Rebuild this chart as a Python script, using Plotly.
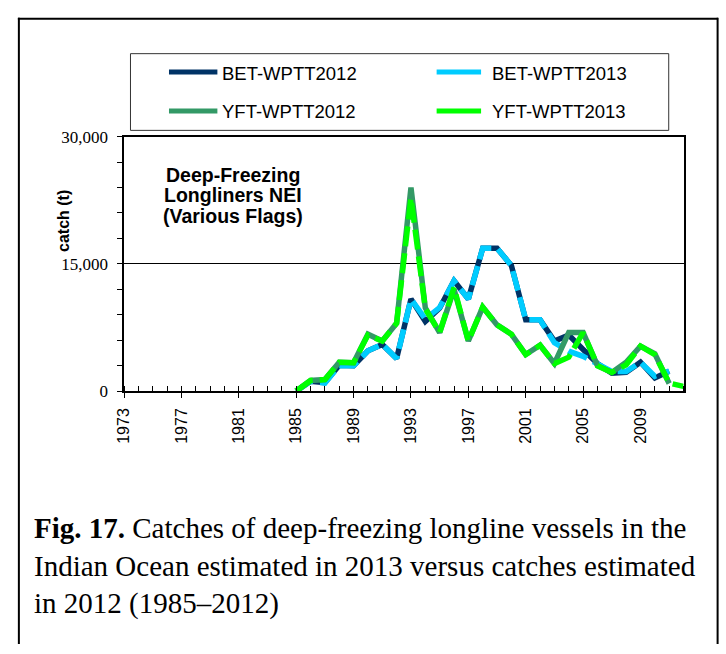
import plotly.graph_objects as go

W, H = 726, 654

years = list(range(1985, 2013))
bet_2012 = [0, 1150, 1000, 3050, 3000, 4750, 5500, 3850, 10850, 8200, 9800, 13000, 10850,
            16850, 16850, 14800, 8400, 8400, 5900, 6600, 4900, 3250, 2100, 2200, 3400, 1550, 2350]
bet_2013 = [0, 1150, 950, 3000, 3000, 4750, 5500, 3850, 10850, 8500, 9850, 13000, 10850,
            16850, 16850, 14800, 8400, 8400, 5700, 4700, 4100, 3250, 2300, 2300, 3400, 1750, 2350]
yft_2012 = [0, 1250, 1350, 3400, 3350, 6700, 5900, 8000, 24000, 9800, 6900, 12000, 5900,
            9900, 7800, 6700, 4300, 5400, 3250, 6900, 6900, 3000, 2200, 3400, 5300, 4400, 900]
yft_2013 = [0, 1250, 1350, 3400, 3350, 6600, 5900, 8000, 22800, 9700, 6900, 12200, 5900,
            9900, 7800, 6700, 4300, 5400, 3250, 4000, 6900, 3000, 2200, 3100, 5300, 4300, 950, 550]

series_names = ["BET-WPTT2012", "BET-WPTT2013", "YFT-WPTT2012", "YFT-WPTT2013"]
series_colors = ["#003366", "#00CCFF", "#339966", "#00FF00"]
series_values = [bet_2012, bet_2013, yft_2012, yft_2013]
series_dash = ["solid", "20px,7px", "solid", "20px,7px"]

x_tick_vals = list(range(1973, 2013, 4))
y_tick_vals = [0, 15000, 30000]
y_tick_text = ["0", "15,000", "30,000"]

panel_lines = ["Deep-Freezing", "Longliners NEI", "(Various Flags)"]
caption_lines = ["<b>Fig. 17.</b> Catches of deep-freezing longline vessels in the",
                 "Indian Ocean estimated in 2013 versus catches estimated",
                 "in 2012 (1985\u20132012)"]


def px(x):
    return x / W


def py(y):
    return 1 - y / H


fig = go.Figure()
for name, col, vals, dash in zip(series_names, series_colors, series_values, series_dash):
    fig.add_trace(go.Scatter(x=years[:len(vals)], y=vals, mode="lines", name=name,
                             line=dict(color=col, width=5.5, dash=dash),
                             showlegend=False, hoverinfo="x+y+name"))

shapes = []
annotations = []

# outer frame (top, left, right)
frame = dict(type="line", xref="paper", yref="paper", line=dict(color="black", width=2))
shapes.append(dict(frame, x0=px(9), x1=px(718), y0=py(10), y1=py(10)))
shapes.append(dict(frame, x0=px(10), x1=px(10), y0=py(9), y1=py(654)))
shapes.append(dict(frame, x0=px(717.5), x1=px(717.5), y0=py(9), y1=py(654)))

# legend box
shapes.append(dict(type="rect", xref="paper", yref="paper", x0=px(123), x1=px(668),
                   y0=py(46), y1=py(125), line=dict(color="#333333", width=1)))
leg_pos = [(162, 211, 214, 65), (433, 478, 487, 65), (162, 211, 214, 105), (433, 478, 487, 105)]
for (lx0, lx1, tx, ty), name, col in zip(leg_pos, series_names, series_colors):
    shapes.append(dict(type="line", xref="paper", yref="paper", x0=px(lx0), x1=px(lx1),
                       y0=py(ty), y1=py(ty), line=dict(color=col, width=5)))
    annotations.append(dict(text=name, xref="paper", yref="paper", x=px(tx), y=py(ty + 1),
                            xanchor="left", yanchor="middle", showarrow=False,
                            font=dict(family="Liberation Sans, Arial", size=18.5, color="black")))

# panel label
for i, t in enumerate(panel_lines):
    annotations.append(dict(text="<b>%s</b>" % t, xref="paper", yref="paper", x=px(227),
                            y=py(171 + 21 * i), xanchor="center", yanchor="middle", showarrow=False,
                            font=dict(family="Liberation Sans, Arial", size=19.5, color="black")))

# y-axis title
annotations.append(dict(text="<b>catch (t)</b>", xref="paper", yref="paper", x=px(55), y=py(218),
                        xanchor="center", yanchor="middle", textangle=-90, showarrow=False,
                        font=dict(family="Liberation Sans, Arial", size=16, color="black")))

# caption
for i, t in enumerate(caption_lines):
    annotations.append(dict(text=t, xref="paper", yref="paper", x=px(23), y=py(535 + 38.5 * i),
                            xanchor="left", yanchor="middle", showarrow=False,
                            font=dict(family="Liberation Serif, Times New Roman", size=29,
                                      color="black")))

fig.update_layout(
    width=W, height=H, margin=dict(l=0, r=0, t=0, b=0),
    paper_bgcolor="white", plot_bgcolor="white",
    shapes=shapes, annotations=annotations, showlegend=False,
    xaxis=dict(domain=[px(116.5), px(683)], range=[1973, 2012], tickvals=x_tick_vals,
               ticktext=[str(v) for v in x_tick_vals], tickangle=-90,
               ticks="outside", ticklen=5, tickcolor="black", tickwidth=1.3,
               minor=dict(dtick=1, tick0=1973, ticks="inside", ticklen=5, tickcolor="black",
                          tickwidth=1.3, showgrid=False),
               showline=True, linecolor="black", linewidth=1.5, mirror=True,
               showgrid=False, zeroline=False, ticklabelstandoff=4,
               tickfont=dict(family="Liberation Sans, Arial", size=16, color="black")),
    yaxis=dict(domain=[py(393.5), py(131.5)], range=[0, 30000], tickvals=y_tick_vals,
               ticktext=y_tick_text, ticks="outside", ticklen=5, tickcolor="black", tickwidth=1.3,
               minor=dict(dtick=3000, tick0=0, ticks="outside", ticklen=5, tickcolor="black",
                          tickwidth=1.3, showgrid=False),
               showline=True, linecolor="black", linewidth=1.5, mirror=True,
               showgrid=True, gridcolor="black", gridwidth=1.2, zeroline=False,
               ticklabelstandoff=6,
               tickfont=dict(family="Liberation Serif, Times New Roman", size=17, color="black")),
)

fig.write_html("out.html")
